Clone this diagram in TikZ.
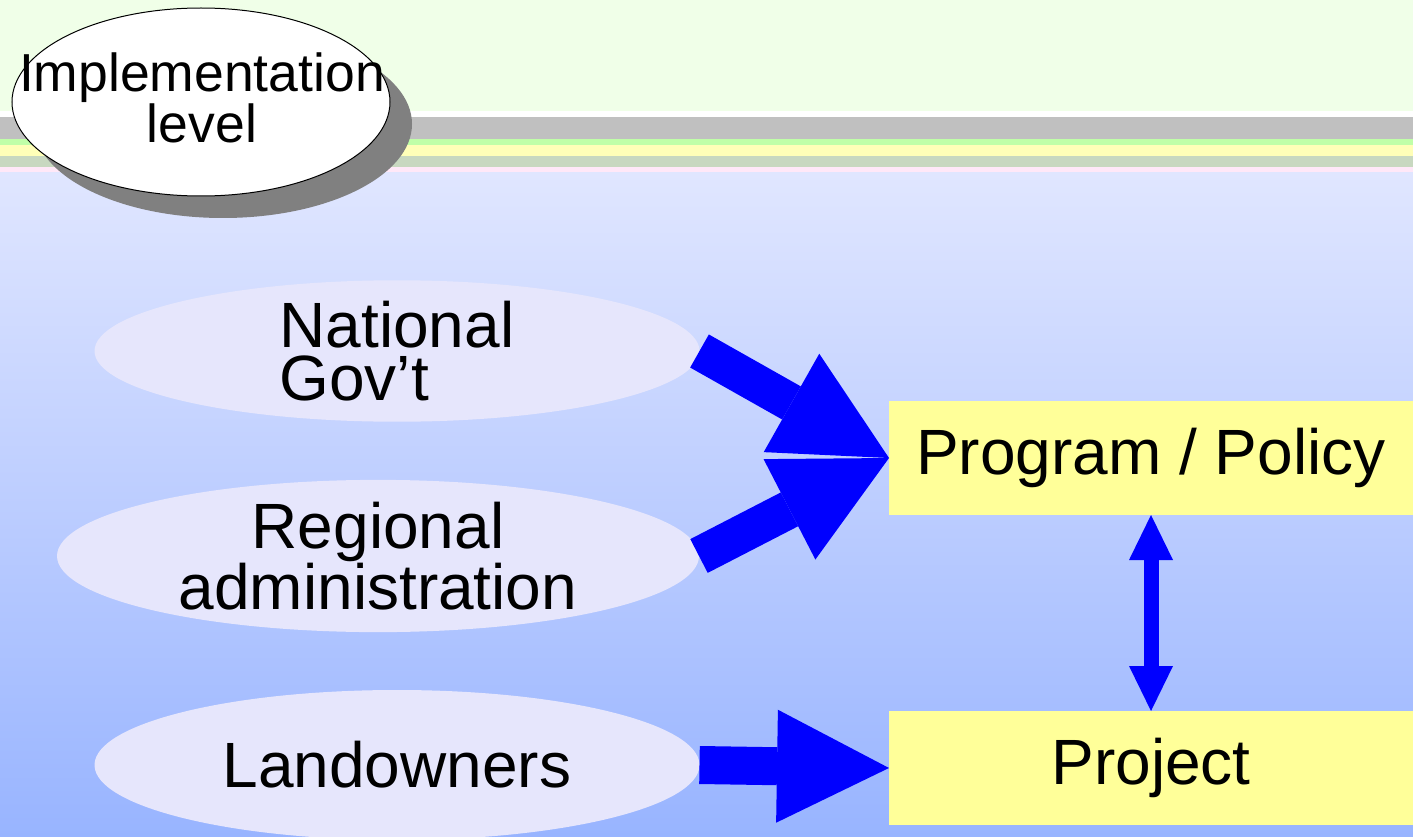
\documentclass[tikz,border=0pt]{standalone}
\usepackage{fontspec}
\setmainfont{Liberation Sans}
\usepackage{tikz}
\usetikzlibrary{positioning}
\usetikzlibrary{shapes.geometric}
\usetikzlibrary{arrows.meta}
\usetikzlibrary{shadows}
\definecolor{hdrgreen}{HTML}{F0FFE8}
\definecolor{bandgray}{HTML}{C0C0C0}
\definecolor{bandgreen}{HTML}{C0FFA8}
\definecolor{bandyellow}{HTML}{FFFFB8}
\definecolor{bandsage}{HTML}{C8D8C0}
\definecolor{bandpink}{HTML}{FFE8F8}
\definecolor{skytop}{HTML}{E0E6FF}
\definecolor{skybottom}{HTML}{98B4FF}
\definecolor{actorfill}{HTML}{E6E6FC}
\definecolor{levelfill}{HTML}{FFFF99}
\definecolor{flowblue}{HTML}{0000FF}

\begin{document}
\begin{tikzpicture}[
        x = 1pt,
        y = -1pt,
        actor/.style = {
            ellipse,
            fill=actorfill,
            minimum width = #1,
            inner sep = 0pt,
            outer sep = 0pt,
            font = \fontsize{64}{53}\selectfont
        },
        actor/.default = 605pt,
        level/.style = {
            rectangle,
            fill=levelfill,
            minimum width = 524pt,
            minimum height = 114pt,
            inner sep = 0pt,
            outer sep = 0pt,
            text height = 46pt,
            text depth = 13pt,
            font = \fontsize{64}{53}\selectfont
        },
        bigflow/.style = {
            draw=flowblue,
            line width = 38pt,
            -{Triangle[length=112pt, width=113pt, line width=0pt]}
        },
        linkflow/.style = {
            draw=flowblue,
            line width = 15pt,
            {Triangle[length=45pt, width=44pt, line width=0pt]}-{Triangle[length=45pt, width=44pt, line width=0pt]}
        }
    ]
    \useasboundingbox (0,0) rectangle (1413,837);
    \fill[hdrgreen] (0,0) rectangle (1413,111);
    \fill[white] (0,111) rectangle (1413,117);
    \fill[bandgray] (0,117) rectangle (1413,139);
    \fill[bandgreen] (0,139) rectangle (1413,145);
    \fill[bandyellow] (0,145) rectangle (1413,156);
    \fill[bandsage] (0,156) rectangle (1413,167);
    \fill[bandpink] (0,167) rectangle (1413,173);
    \shade[top color=skytop, bottom color=skybottom] (0,173) rectangle (1413,837);

    \node[ellipse, draw, line width=1pt, fill=white, minimum width=378pt, minimum height=188pt, inner sep=0pt,
          drop shadow={shadow xshift=22pt, shadow yshift=-22pt, fill=black!50, opacity=1}] (impl) at (201,102) {};
    \node[align=center, inner sep=0pt, font=\fontsize{53.5}{51}\selectfont] (impltext) at (202,98) {Implementation\\level};

    \node[actor, minimum height=140pt, align=left] (nat) at (397,351) {National\\Gov't};
    \node[actor=642pt, minimum height=146pt, align=center] (reg) at (378,556) {Regional\\administration};
    \node[actor, minimum height=150pt] (land) at (397,765) {Landowners};

    \node[level] (prog) at (1151,458) {Program / Policy};
    \node[level, below=196pt of prog] (proj) {Project};

    \draw[bigflow] (nat.east) -- (prog.west);
    \draw[bigflow] (reg.east) -- (prog.west);
    \draw[bigflow] (land.east) -- (proj.west);
    \draw[linkflow] (prog.south) -- (proj.north);
    \end{tikzpicture}
\end{document}
